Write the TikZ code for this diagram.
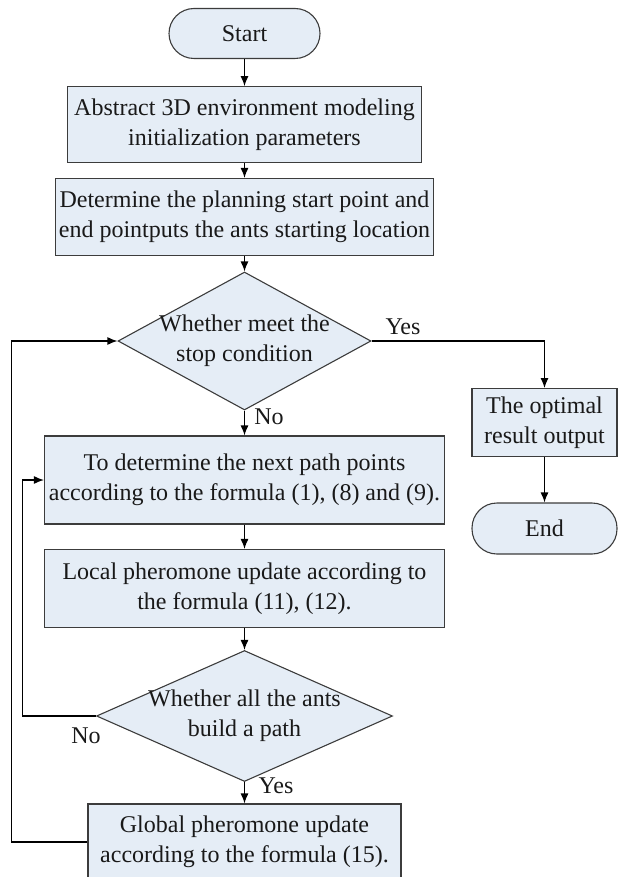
\documentclass[tikz,border=0pt]{standalone}
\usepackage{fontspec}
\setmainfont{Liberation Serif}
\usetikzlibrary{arrows.meta,shapes.geometric}
\definecolor{boxfill}{RGB}{229,237,246}
\definecolor{boxline}{RGB}{60,60,60}
\definecolor{ink}{RGB}{25,25,25}
\begin{document}
\begin{tikzpicture}[x=1pt,y=-1pt,
  font=\fontsize{24}{30}\selectfont, text=ink,
  box/.style={draw=boxline,fill=boxfill,line width=1.1pt,inner sep=0pt,align=center},
  term/.style={box,rounded corners=25pt},
  dia/.style={draw=boxline,fill=boxfill,line width=1.1pt,shape=diamond,inner sep=0pt},
  txt/.style={inner sep=0pt,align=center},
  arr/.style={draw=black,line width=1.3pt,-{Latex[length=10pt,width=8pt]}},
  lbl/.style={inner sep=0pt}]
\useasboundingbox (0,0) rectangle (618,877);
\clip (0,0) rectangle (618,877);
% main column
\node[term,minimum width=151pt,minimum height=50pt] (start) at (244.5,33.5) {Start};
\node[box,minimum width=354pt,minimum height=76pt] (b1) at (244.5,124.7) {Abstract 3D environment modeling\\initialization parameters};
\node[box,minimum width=378pt,minimum height=77pt] (b2) at (244.5,217) {Determine the planning start point and\\end pointputs the ants starting location};
\node[dia,minimum width=253pt,minimum height=138pt] (d1) at (244.5,341) {};
\node[txt] (d1t) at (d1.center) {Whether meet the\\stop condition};
\node[box,minimum width=400pt,minimum height=88pt] (b3) at (244.5,480) {To determine the next path points\\according to the formula (1), (8) and (9).};
\node[box,minimum width=400pt,minimum height=78pt] (b4) at (244.5,588.5) {Local pheromone update according to\\the formula (11), (12).};
\node[dia,minimum width=296pt,minimum height=131pt] (d2) at (244.5,716) {};
\node[txt] (d2t) at (d2.center) {Whether all the ants\\build a path};
\node[box,minimum width=313pt,minimum height=76pt] (b5) at (244.5,842) {Global pheromone update\\according to the formula (15).};
% right column
\node[box,minimum width=145pt,minimum height=68pt] (opt) at (544.5,422.6) {The optimal\\result output};
\node[term,minimum width=145pt,minimum height=51pt] (end) at (544.5,528.5) {End};
% loop corners
\coordinate (l2) at (22.7,716);
\coordinate (l1) at (11.7,842);
% connectors
\draw[arr] (start.south) -- (b1.north);
\draw[arr] (b1.south) -- (b2.north);
\draw[arr] (b2.south) -- (d1.north);
\draw[arr] (d1.south) -- (b3.north);
\draw[arr] (b3.south) -- (b4.north);
\draw[arr] (b4.south) -- (d2.north);
\draw[arr] (d2.south) -- (b5.north);
\draw[arr] (d1.east) -| (opt.north);
\draw[arr] (opt.south) -- (end.north);
\draw[arr] (d2.west) -- (l2) |- (b3.west);
\draw[arr] (b5.west) -- (l1) |- (d1.west);
% labels
\node[lbl] (yes1) at (403,326.5) {Yes};
\node[lbl] (no1) at (269,416.5) {No};
\node[lbl] (no2) at (86,735.5) {No};
\node[lbl] (yes2) at (276,786) {Yes};
\end{tikzpicture}
\end{document}
